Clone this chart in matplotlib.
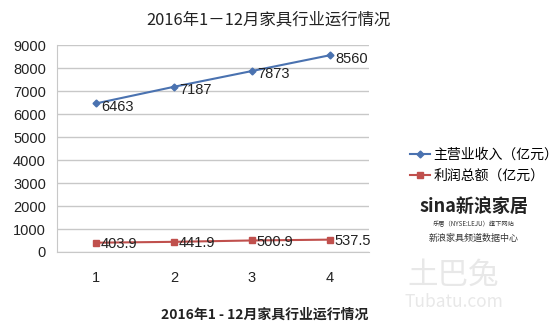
import matplotlib
matplotlib.use("Agg")
import matplotlib.pyplot as plt

plt.rcParams['font.family'] = ['Noto Sans CJK SC', 'DejaVu Sans']

categories = ["1", "2", "3", "4"]
revenue = [6463, 7187, 7873, 8560]
profit = [403.9, 441.9, 500.9, 537.5]
revenue_labels = ["6463", "7187", "7873", "8560"]
profit_labels = ["403.9", "441.9", "500.9", "537.5"]
yticks = [0, 1000, 2000, 3000, 4000, 5000, 6000, 7000, 8000, 9000]

fig = plt.figure(figsize=(5.6, 3.31), dpi=100)
ax = fig.add_axes([0.1018, 0.2387, 0.557, 0.625])

x = list(range(1, len(categories) + 1))
blue = "#4a72b0"
red = "#c0504d"
l1, = ax.plot(x, revenue, color=blue, marker="D", markersize=3.5, linewidth=1.5,
              label="主营业收入（亿元）")
l2, = ax.plot(x, profit, color=red, marker="s", markersize=4.5, linewidth=1.5,
              label="利润总额（亿元）")
for xi, v, t in zip(x, revenue, revenue_labels):
    ax.annotate(t, (xi, v), xytext=(4, -2.5), textcoords="offset points",
                fontsize=10.5, color="#222222", va="center", ha="left",
                family=["Liberation Sans", "DejaVu Sans"])
for xi, v, t in zip(x, profit, profit_labels):
    ax.annotate(t, (xi, v), xytext=(3, -1), textcoords="offset points",
                fontsize=10.5, color="#222222", va="center", ha="left",
                family=["Liberation Sans", "DejaVu Sans"])

ax.set_xlim(0.5, 4.5)
ax.set_ylim(0, 9000)
ax.set_yticks(yticks)
ax.set_xticks(x)
ax.set_xticklabels(categories)
ax.yaxis.grid(True, color="#c8c8c8", linewidth=1)
ax.set_axisbelow(True)
for s in ["top", "right"]:
    ax.spines[s].set_visible(False)
ax.spines["left"].set_color("#c8c8c8")
ax.spines["bottom"].set_color("#c8c8c8")
ax.tick_params(length=0, labelsize=10.5, colors="#222222")
ax.tick_params(axis="x", pad=14)
ax.tick_params(axis="y", pad=8)
for lab in ax.get_xticklabels() + ax.get_yticklabels():
    lab.set_family(["Liberation Sans", "DejaVu Sans"])

fig.text(0.479, 0.94, "2016年1－12月家具行业运行情况", ha="center", va="center",
         fontsize=11.8, color="#222222")
fig.text(0.473, 0.05, "2016年1 - 12月家具行业运行情况", ha="center", va="center",
         fontsize=10, fontweight="bold", color="#222222")

fig.legend(handles=[l1, l2], loc="center left", bbox_to_anchor=(0.71, 0.50),
           frameon=False, fontsize=10, handlelength=1.4, labelspacing=0.5,
           handletextpad=0.3)

fig.text(0.846, 0.372, "sina新浪家居", ha="center", va="center", fontsize=13,
         fontweight="bold", fontstyle="italic", color="#222222")
fig.text(0.846, 0.323, "乐居（NYSE:LEJU）旗下网站", ha="center", va="center",
         fontsize=4.5, color="#333333")
fig.text(0.846, 0.281, "新浪家具频道数据中心", ha="center", va="center",
         fontsize=6.5, color="#333333")
fig.text(0.81, 0.169, "土巴兔", ha="center", va="center", fontsize=22,
         color="#e8e8e8")
fig.text(0.81, 0.088, "Tubatu.com", ha="center", va="center", fontsize=12.5,
         color="#e8e8e8")

fig.savefig("out.png", dpi=100)
